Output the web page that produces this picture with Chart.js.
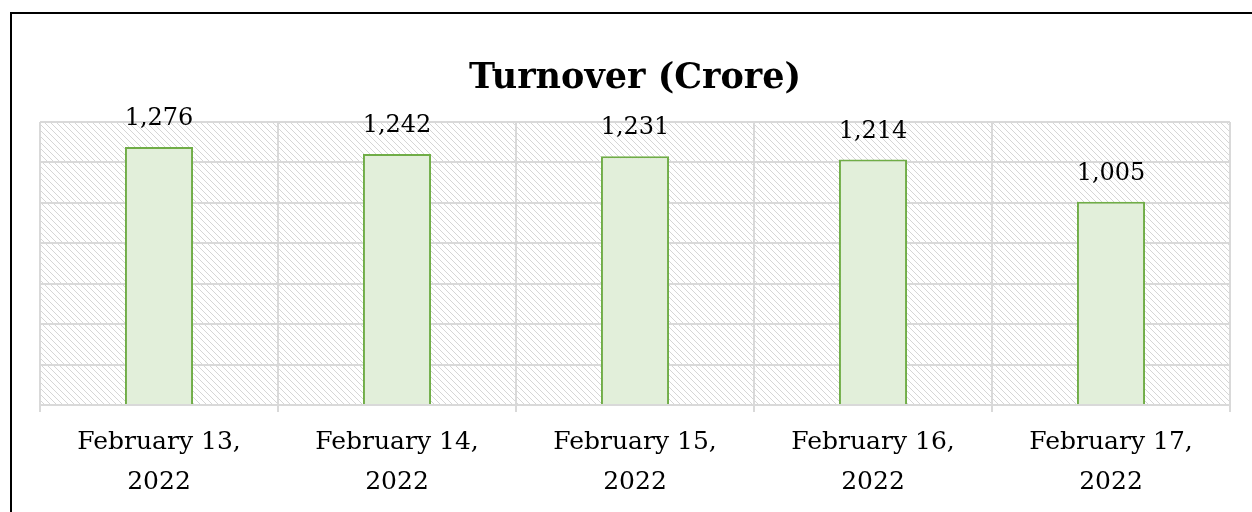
<!DOCTYPE html>
<html>
<head>
<meta charset="utf-8">
<script src="https://cdn.jsdelivr.net/npm/chart.js@4/dist/chart.umd.min.js"></script>
<style>
  html, body { margin: 0; padding: 0; background: #fff; }
  #wrap { position: relative; width: 1252px; height: 512px; overflow: hidden; }
  #frame { position: absolute; left: 10px; top: 12px; width: 1300px; height: 600px;
           border-left: 2px solid #000; border-top: 2px solid #000; pointer-events: none; }
  canvas { position: absolute; left: 0; top: 0; }
</style>
</head>
<body>
<div id="wrap">
  <canvas id="chart" width="1252" height="512"></canvas>
  <div id="frame"></div>
</div>
<script>
// chart data
const dates = [['February 13,', '2022'], ['February 14,', '2022'], ['February 15,', '2022'], ['February 16,', '2022'], ['February 17,', '2022']];
const turnover = [1276, 1242, 1231, 1214, 1005];

const serif = '"DejaVu Serif", "Liberation Serif", serif';

// diagonal hatch for the plot background
function makeHatch() {
  const c = document.createElement('canvas');
  c.width = 6; c.height = 6;
  const g = c.getContext('2d');
  g.strokeStyle = '#d6d6d6';
  g.lineWidth = 1;
  g.beginPath();
  g.moveTo(0, 0); g.lineTo(6, 6);
  g.moveTo(-3, 3); g.lineTo(3, 9);
  g.moveTo(3, -3); g.lineTo(9, 3);
  g.stroke();
  return g.createPattern(c, 'repeat');
}

const hatchBg = {
  id: 'hatchBg',
  beforeDraw(chart) {
    const { ctx, chartArea: a } = chart;
    ctx.save();
    ctx.fillStyle = makeHatch();
    ctx.fillRect(a.left, a.top, a.right - a.left, a.bottom - a.top);
    ctx.restore();
  }
};

// value labels above the bars
const barLabels = {
  id: 'barLabels',
  afterDatasetsDraw(chart) {
    const ctx = chart.ctx;
    const meta = chart.getDatasetMeta(0);
    ctx.save();
    ctx.font = '24px ' + serif;
    ctx.fillStyle = '#000';
    ctx.textAlign = 'center';
    ctx.textBaseline = 'bottom';
    meta.data.forEach((bar, i) => {
      ctx.fillText(turnover[i].toLocaleString('en-US'), bar.x, bar.y - 16);
    });
    ctx.restore();
  }
};

new Chart(document.getElementById('chart'), {
  type: 'bar',
  data: {
    labels: dates,
    datasets: [{
      data: turnover,
      backgroundColor: '#e2efda',
      borderColor: '#70ad47',
      borderWidth: 2,
      barPercentage: 0.286,
      categoryPercentage: 1
    }]
  },
  options: {
    responsive: false,
    animation: false,
    layout: { padding: { left: 40, right: 22, top: 12, bottom: 0 } },
    plugins: {
      legend: { display: false },
      tooltip: { enabled: false },
      title: {
        display: true,
        text: 'Turnover (Crore)',
        color: '#000',
        font: { family: serif, size: 35, weight: 'bold' },
        padding: { top: 46, bottom: 22 }
      }
    },
    scales: {
      x: {
        grid: { color: '#d9d9d9', lineWidth: 2, tickLength: 7, offset: true },
        border: { color: '#d9d9d9', width: 2 },
        ticks: { color: '#000', font: { family: serif, size: 25, lineHeight: 1.6 }, padding: 10, maxRotation: 0 }
      },
      y: {
        min: 0, max: 1400,
        ticks: { display: false, stepSize: 200 },
        grid: { color: '#d9d9d9', lineWidth: 2, drawTicks: false },
        border: { display: false }
      }
    }
  },
  plugins: [hatchBg, barLabels]
});
</script>
</body>
</html>
